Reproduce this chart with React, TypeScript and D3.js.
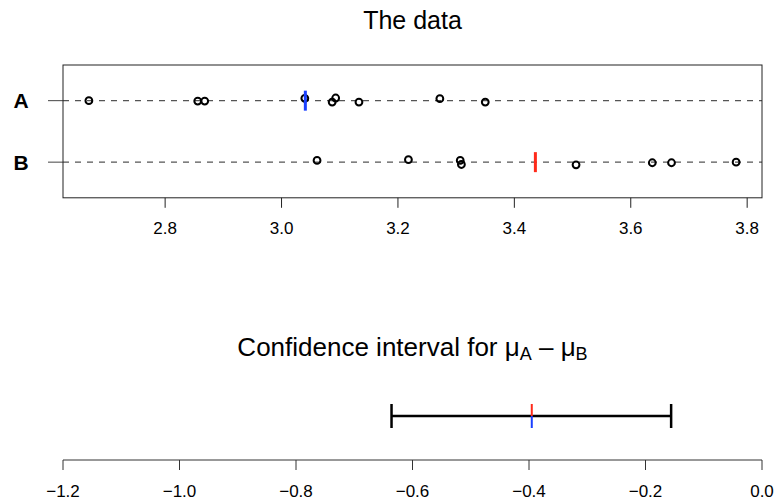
import React from 'react';
import * as d3 from 'd3';

const W = 775;
const H = 502;

const groups = ['A', 'B'];
const valuesA = [2.669, 2.856, 2.868, 3.04, 3.087, 3.093, 3.133, 3.272, 3.35];
const jitterA = [0, 0.007, 0.007, -0.038, 0.023, -0.043, 0.023, -0.033, 0.023];
const valuesB = [3.061, 3.218, 3.307, 3.309, 3.506, 3.637, 3.67, 3.781];
const jitterB = [-0.028, -0.04, -0.028, 0.038, 0.043, 0.01, 0.01, 0];
const topTicks = [2.8, 3.0, 3.2, 3.4, 3.6, 3.8];

// confidence interval for the difference of means
const ciBounds = [-0.636, -0.156];
const bottomTicks = [-1.2, -1.0, -0.8, -0.6, -0.4, -0.2, 0.0];

const FONT = '"Liberation Sans", Arial, Helvetica, sans-serif';
const RED = '#ff2a1a';
const BLUE = '#1a40ff';

const left = 63;
const right = 762;

const App = () => {
    const all = valuesA.concat(valuesB);
    const [lo, hi] = d3.extent(all) as [number, number];
    const pad = (hi - lo) * 0.04;
    const x = d3.scaleLinear().domain([lo - pad, hi + pad]).range([left, right]);
    // stripchart rows sit at 1 and 2, ylim c(0.5, 2.5) plus the usual 4%
    const y = d3.scaleLinear().domain([0.42, 2.58]).range([65, 197.8]);

    const xCI = d3.scaleLinear().domain([-1.2, 0]).range([left, right]);
    const yCI = d3.scaleLinear().domain([0, 1]).range([460, 372]);

    const meanA = d3.mean(valuesA) as number;
    const meanB = d3.mean(valuesB) as number;
    const diff = meanA - meanB;
    const fmt = d3.format('.1f');

    const series = [
        { name: groups[0], row: 1, values: valuesA, jitter: jitterA, mean: meanA, color: BLUE },
        { name: groups[1], row: 2, values: valuesB, jitter: jitterB, mean: meanB, color: RED },
    ];

    const ciY = yCI(0.5);
    const [y0, y1] = y.range();

    return (
        <svg width={W} height={H} style={{ position: 'absolute', left: 0, top: 0, background: '#fff' }} fontFamily={FONT}>
            {/* top panel */}
            <text x={(left + right) / 2} y={29} textAnchor="middle" fontSize={25}>
                The data
            </text>

            {series.map((s) => (
                <g key={s.name}>
                    <line x1={left} x2={right} y1={y(s.row)} y2={y(s.row)} stroke="#555" strokeWidth={1.2} strokeDasharray="6,6" />
                    <line x1={48} x2={left} y1={y(s.row)} y2={y(s.row)} stroke="#444" strokeWidth={1} />
                    <text x={21} y={y(s.row) + 7.5} textAnchor="middle" fontSize={21} fontWeight="bold">
                        {s.name}
                    </text>
                    {s.values.map((v, i) => (
                        <circle key={i} cx={x(v)} cy={y(s.row + s.jitter[i])} r={3.4} fill="none" stroke="#000" strokeWidth={2} />
                    ))}
                    <line x1={x(s.mean)} x2={x(s.mean)} y1={y(s.row) - 10} y2={y(s.row) + 10} stroke={s.color} strokeWidth={3} />
                </g>
            ))}

            <rect x={left} y={y0} width={right - left} height={y1 - y0} fill="none" stroke="#222" strokeWidth={1} />

            {topTicks.map((t) => (
                <g key={t}>
                    <line x1={x(t)} x2={x(t)} y1={y1} y2={y1 + 10} stroke="#222" strokeWidth={1} />
                    <text x={x(t)} y={y1 + 36} textAnchor="middle" fontSize={17}>
                        {fmt(t)}
                    </text>
                </g>
            ))}

            {/* bottom panel */}
            <text x={(left + right) / 2} y={356} textAnchor="middle" fontSize={26}>
                Confidence interval for μ
                <tspan fontSize={18} dy={4}>A</tspan>
                <tspan dy={-4}> – μ</tspan>
                <tspan fontSize={18} dy={4}>B</tspan>
            </text>

            <line x1={xCI(ciBounds[0])} x2={xCI(ciBounds[1])} y1={ciY} y2={ciY} stroke="#000" strokeWidth={2.5} />
            {ciBounds.map((b) => (
                <line key={b} x1={xCI(b)} x2={xCI(b)} y1={ciY - 12} y2={ciY + 12} stroke="#000" strokeWidth={2.5} />
            ))}
            <line x1={xCI(diff)} x2={xCI(diff)} y1={ciY - 12} y2={ciY} stroke={RED} strokeWidth={2} />
            <line x1={xCI(diff)} x2={xCI(diff)} y1={ciY} y2={ciY + 12} stroke={BLUE} strokeWidth={2} />

            <line x1={xCI(-1.2)} x2={xCI(0)} y1={yCI(0)} y2={yCI(0)} stroke="#333" strokeWidth={1} />
            {bottomTicks.map((t) => (
                <g key={t}>
                    <line x1={xCI(t)} x2={xCI(t)} y1={yCI(0)} y2={yCI(0) + 10} stroke="#333" strokeWidth={1} />
                    <text x={xCI(t)} y={yCI(0) + 37} textAnchor="middle" fontSize={17}>
                        {fmt(t)}
                    </text>
                </g>
            ))}
        </svg>
    );
};

export default App;
